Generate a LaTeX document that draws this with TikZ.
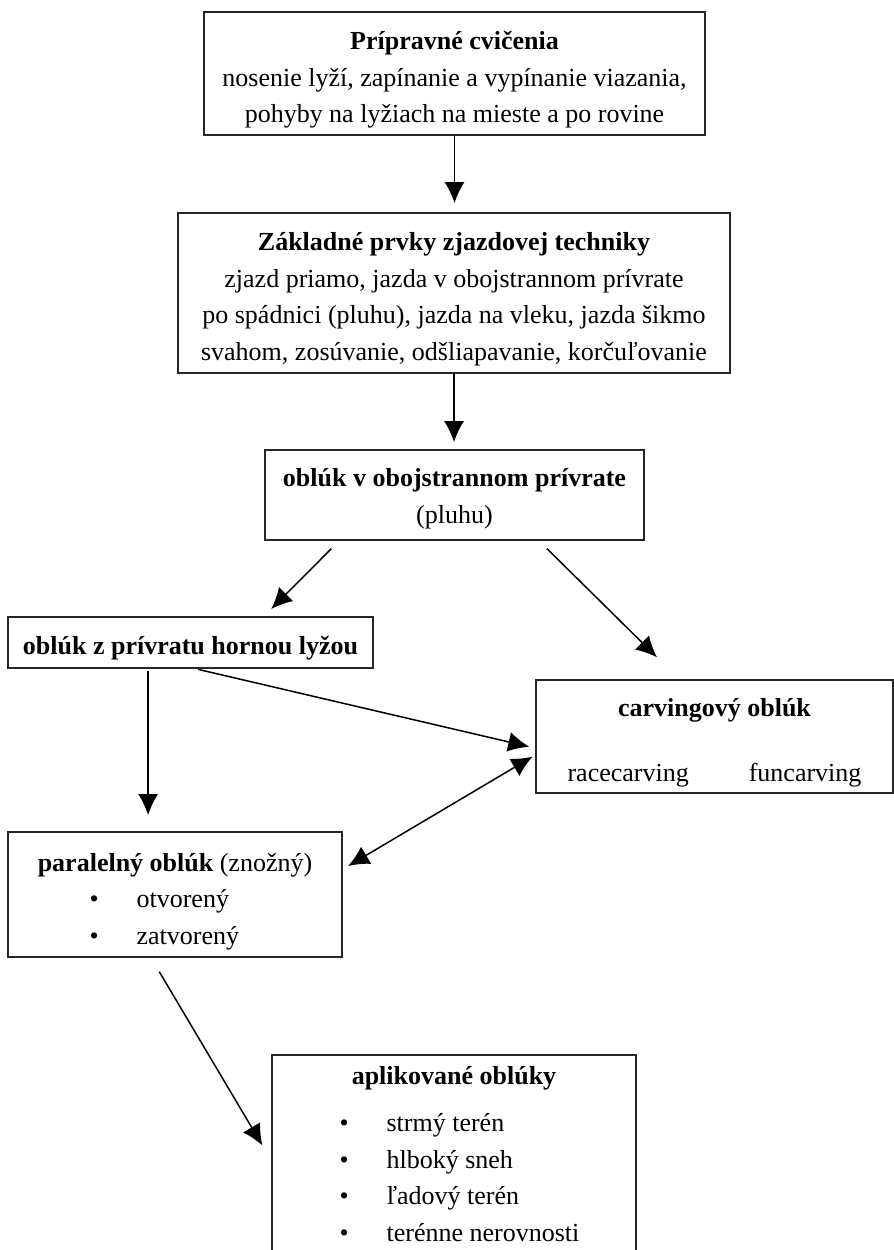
\documentclass[tikz,border=0pt]{standalone}
\usepackage{fontspec}
\setmainfont{Liberation Serif}
\usetikzlibrary{arrows.meta}
\newcommand{\bul}[2]{\makebox[#1][l]{\textbullet\hspace{38pt}#2}}
\newcommand{\tp}[1]{\rule{0pt}{#1}}

\begin{document}
\begin{tikzpicture}[x=1pt,y=-1pt,
  box/.style={draw=black!85,line width=1.8pt,inner sep=0pt,align=center,
    font=\fontsize{26}{36.5}\selectfont},
  arr/.style={->,>={Latex[length=21pt,width=20pt]},line width=1.5pt}]
\useasboundingbox (0,0) rectangle (894,1250);
\clip (0,0) rectangle (894,1250);

\node[box,minimum width=501pt,minimum height=123pt] (A) at (454.5,73.5)
  {\tp{31pt}\textbf{Prípravné cvičenia}\\nosenie lyží, zapínanie a vypínanie viazania,\\pohyby na lyžiach na mieste a po rovine};
\node[box,minimum width=552pt,minimum height=160pt] (B) at (454,293)
  {\tp{31pt}\textbf{Základné prvky zjazdovej techniky}\\zjazd priamo, jazda v obojstrannom prívrate\\po spádnici (pluhu), jazda na vleku, jazda šikmo\\svahom, zosúvanie, odšliapavanie, korčuľovanie};
\node[box,minimum width=379pt,minimum height=90pt] (C) at (454.5,495)
  {\tp{26pt}\textbf{oblúk v obojstrannom prívrate}\\(pluhu)};
\node[box,minimum width=365pt,minimum height=51pt] (D) at (190.5,642.5)
  {\tp{29pt}\textbf{oblúk z prívratu hornou lyžou}};
\node[box,minimum width=357pt,minimum height=113pt] (E) at (714.5,736.5)
  {\tp{31pt}\textbf{carvingový oblúk}\\[28pt]racecarving\hspace{60pt}funcarving};
\node[box,minimum width=334pt,minimum height=125pt] (F) at (175,894.5)
  {\tp{32pt}\textbf{paralelný oblúk} (znožný)\\\bul{171pt}{otvorený}\\\bul{171pt}{zatvorený}};
\node[box,minimum width=364pt,minimum height=198pt] (G) at (454,1154)
  {\textbf{aplikované oblúky}\\[11pt]\bul{229pt}{strmý terén}\\\bul{229pt}{hlboký sneh}\\\bul{229pt}{ľadový terén}\\\bul{229pt}{terénne nerovnosti}};

\draw[arr,shorten >=9pt] (A.south) -- (A.south |- B.north);
\draw[arr,shorten >=7pt] (B.south) -- (B.south |- C.north);
\draw[arr,shorten <=11pt,shorten >=10pt] ([xshift=75pt]C.south west) -- ([xshift=257pt]D.north west);
\draw[arr,shorten <=11pt,shorten >=31pt] ([xshift=275pt]C.south west) -- ([xshift=144pt]E.north west);
\draw[arr,shorten <=2pt,shorten >=16pt] ([xshift=141pt]D.south west) -- ([xshift=141pt]F.north west);
\draw[arr,shorten <=2pt,shorten >=6pt] ([xshift=189pt]D.south west) -- ([yshift=-69pt]E.north west);
\draw[arr,<->,shorten <=6pt,shorten >=3pt] ([yshift=-38pt]F.north east) -- ([yshift=-76pt]E.north west);
\draw[arr,shorten <=16pt,shorten >=17pt] ([xshift=144pt]F.south west) -- ([yshift=-106pt]G.north west);
\end{tikzpicture}
\end{document}
